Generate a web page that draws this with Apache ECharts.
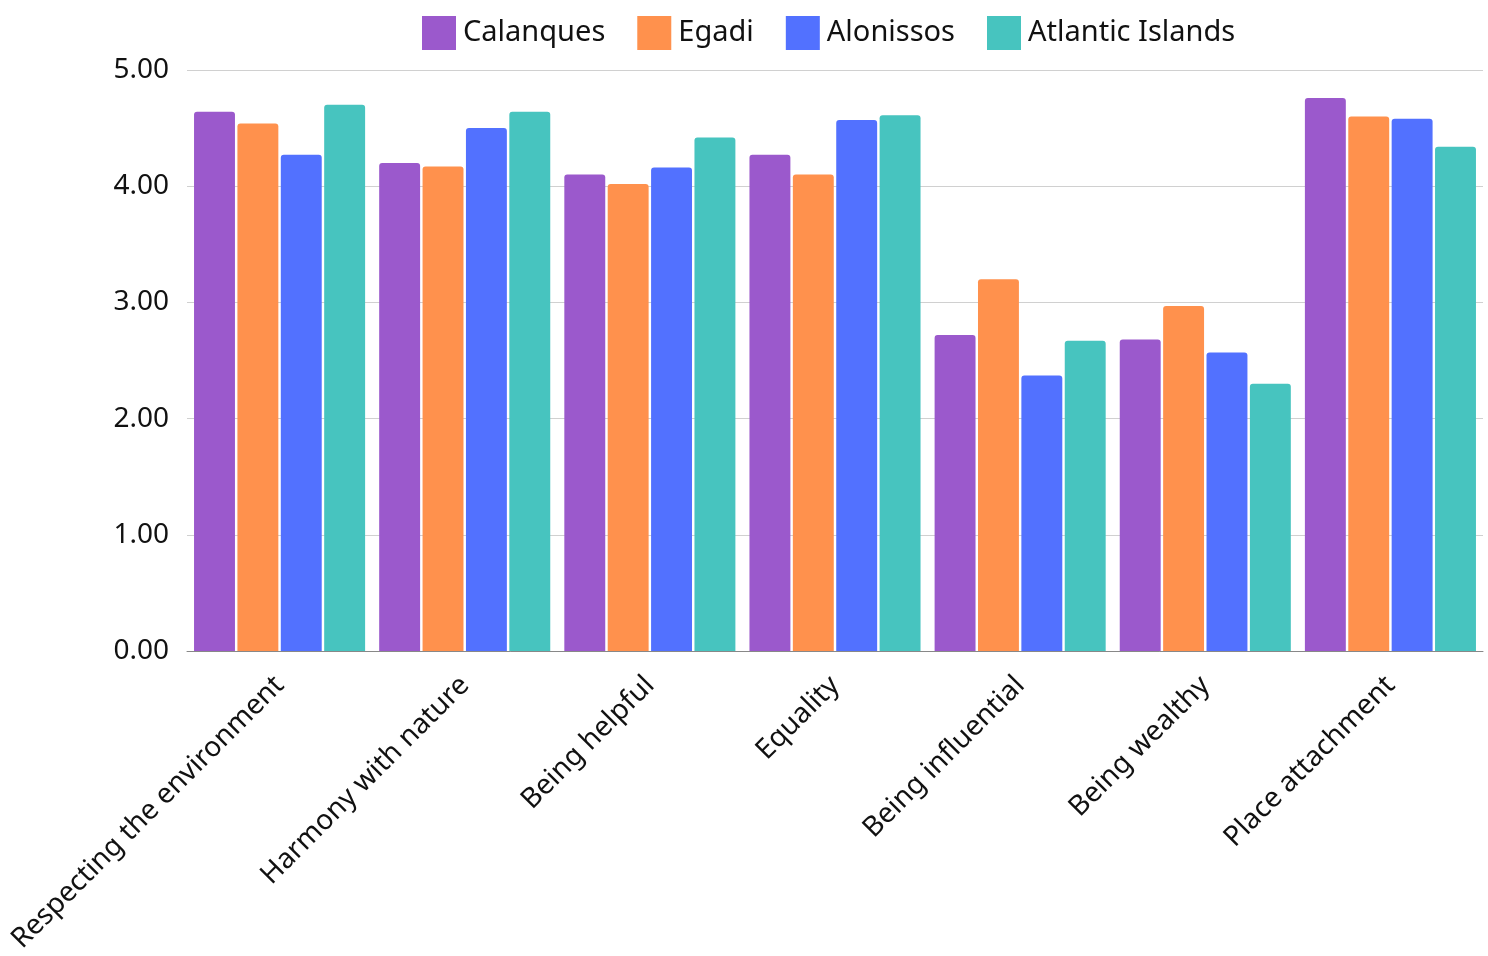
<!DOCTYPE html>
<html><head><meta charset="utf-8">
<script src="https://cdn.jsdelivr.net/npm/echarts@6/dist/echarts.min.js"></script>
<style>html,body{margin:0;padding:0;background:#fff}#c{width:1488px;height:956px}</style>
</head><body><div id="c"></div>
<script>
const categories = ["Respecting the environment","Harmony with nature","Being helpful","Equality","Being influential","Being wealthy","Place attachment"];
const seriesNames = ["Calanques","Egadi","Alonissos","Atlantic Islands"];
const calanques = [4.64, 4.20, 4.10, 4.27, 2.72, 2.68, 4.76];
const egadi = [4.54, 4.17, 4.02, 4.10, 3.20, 2.97, 4.60];
const alonissos = [4.27, 4.50, 4.16, 4.57, 2.37, 2.57, 4.58];
const atlantic = [4.70, 4.64, 4.42, 4.61, 2.67, 2.30, 4.34];
const colors = ["#9B59CC","#FF914D","#5271FF","#47C4BF"];
const allData = [calanques, egadi, alonissos, atlantic];
const font = "Noto Sans";
const chart = echarts.init(document.getElementById('c'));
chart.setOption({
  animation:false,
  textStyle:{fontFamily:font},
  color: colors,
  legend:{
    top:11, left:417, itemWidth:34, itemHeight:34, itemGap:32, icon:'rect',
    textStyle:{fontSize:29, color:'#111', fontFamily:font, padding:[0,0,0,2]}
  },
  grid:{left:187, right:5, top:70, bottom:304},
  xAxis:{
    type:'category', data:categories,
    axisTick:{show:false},
    axisLine:{lineStyle:{color:'#888', width:1}},
    axisLabel:{rotate:45, fontSize:28, color:'#111', margin:30, fontFamily:font, interval:0}
  },
  yAxis:{
    type:'value', min:0, max:5, interval:1,
    axisLabel:{fontSize:28, color:'#111', margin:18, fontFamily:font, formatter:v=>v.toFixed(2)},
    splitLine:{lineStyle:{color:'#d0d0d0', width:1}},
    axisLine:{show:false}, axisTick:{show:false}
  },
  series: seriesNames.map((n,i)=>({
    name:n, type:'bar', data:allData[i],
    barGap:'6%', barCategoryGap:'7.6%',
    itemStyle:{color:colors[i], borderRadius:[3,3,0,0]}
  }))
});
</script></body></html>
